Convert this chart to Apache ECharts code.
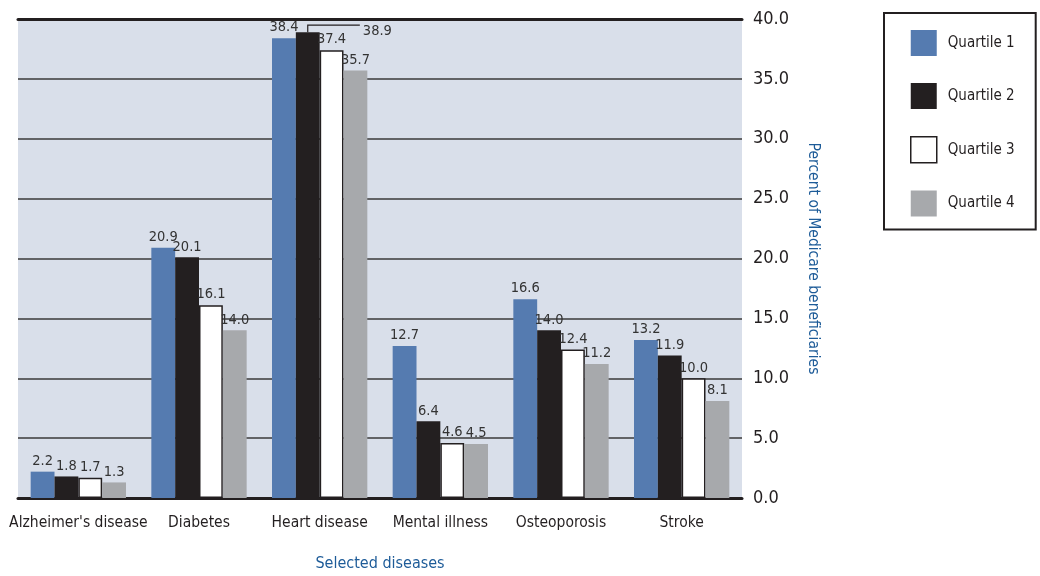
<!DOCTYPE html>
<html><head><meta charset="utf-8">
<script src="https://cdn.jsdelivr.net/npm/echarts@6/dist/echarts.min.js"></script>
<style>html,body{margin:0;padding:0;background:#fff}#c{width:1040px;height:576px}</style>
</head><body><div id="c"></div>
<script>
const categories = ["Alzheimer's disease", "Diabetes", "Heart disease", "Mental illness", "Osteoporosis", "Stroke"];
const quartile1 = [2.2, 20.9, 38.4, 12.7, 16.6, 13.2];
const quartile2 = [1.8, 20.1, 38.9, 6.4, 14.0, 11.9];
const quartile3 = [1.7, 16.1, 37.4, 4.6, 12.4, 10.0];
const quartile4 = [1.3, 14.0, 35.7, 4.5, 11.2, 8.1];
const seriesNames = ["Quartile 1", "Quartile 2", "Quartile 3", "Quartile 4"];
const yTicks = {min: 0, max: 40, interval: 5};

const FONT = '"DejaVu Sans Condensed", "Liberation Sans Narrow", sans-serif';
const colors = ['#557bb0', '#231f20', '#ffffff', '#a7a9ac'];
const chart = echarts.init(document.getElementById('c'));

const label = {show: true, position: 'top', distance: 3, color: '#333', fontFamily: FONT, fontSize: 14.5,
  formatter: p => p.value.toFixed(1)};

function mkSeries(i, arr) {
  const s = {
    name: seriesNames[i], type: 'bar', data: arr.slice(),
    barGap: 0, barCategoryGap: '21%',
    itemStyle: {color: colors[i]},
    label: label
  };
  if (i === 2) s.itemStyle = {color: '#fff', borderColor: '#231f20', borderWidth: 1.5};
  return s;
}
const series = [mkSeries(0, quartile1), mkSeries(1, quartile2), mkSeries(2, quartile3), mkSeries(3, quartile4)];
const hIdx = categories.indexOf('Heart disease');
series[1].data[hIdx] = {value: quartile2[hIdx], label: {show: true, position: [67, -8], distance: 0}};

chart.setOption({
  animation: false,
  textStyle: {fontFamily: FONT},
  grid: {left: 18, right: 298, top: 19, bottom: 78, show: true, backgroundColor: '#d9dfea', borderWidth: 0, outerBoundsMode: 'none', containLabel: false},
  legend: {
    orient: 'vertical', left: 884, top: 13,
    padding: [17, 21, 13, 26], itemGap: 27, itemWidth: 26, itemHeight: 26,
    borderColor: '#231f20', borderWidth: 2,
    textStyle: {fontFamily: FONT, fontSize: 15, color: '#231f20', padding: [0, 0, 0, 6]},
    icon: 'rect',
    data: seriesNames.map((n, i) => i === 2 ? {name: n, itemStyle: {color: '#fff', borderColor: '#231f20', borderWidth: 1.5}} : {name: n})
  },
  xAxis: [{
    type: 'category', data: categories,
    name: 'Selected diseases', nameLocation: 'middle', nameGap: 58,
    nameTextStyle: {color: '#1d5b98', fontFamily: FONT, fontSize: 16},
    axisLine: {show: true, lineStyle: {color: '#231f20', width: 3}},
    axisTick: {show: false},
    axisLabel: {color: '#231f20', fontFamily: FONT, fontSize: 15.5, margin: 17, interval: 0}
  }, {
    type: 'category', data: categories, position: 'top',
    axisLine: {show: true, lineStyle: {color: '#231f20', width: 3}},
    axisTick: {show: false}, axisLabel: {show: false}
  }],
  yAxis: {
    type: 'value', position: 'right', min: yTicks.min, max: yTicks.max, interval: yTicks.interval,
    name: 'Percent of Medicare beneficiaries', nameLocation: 'middle', nameGap: 63, nameRotate: -90,
    nameTextStyle: {color: '#1d5b98', fontFamily: FONT, fontSize: 15.5},
    axisLine: {show: false}, axisTick: {show: false},
    axisLabel: {color: '#231f20', fontFamily: FONT, fontSize: 18, margin: 11, formatter: v => v.toFixed(1)},
    splitLine: {show: true, lineStyle: {color: '#3a3a3a', width: 1.5}}
  },
  series: series
});

const lay = chart.getModel().getSeriesByIndex(1).getData().getItemLayout(hIdx);
const bx = lay.x + lay.width / 2;
const barTop = Math.min(lay.y, lay.y + lay.height);
const topY = barTop - 7;
chart.setOption({graphic: [{
  type: 'polyline', silent: true,
  shape: {points: [[bx, barTop], [bx, topY], [lay.x + 64, topY]]},
  style: {stroke: '#231f20', lineWidth: 1.2, fill: null}
}]});
</script></body></html>
